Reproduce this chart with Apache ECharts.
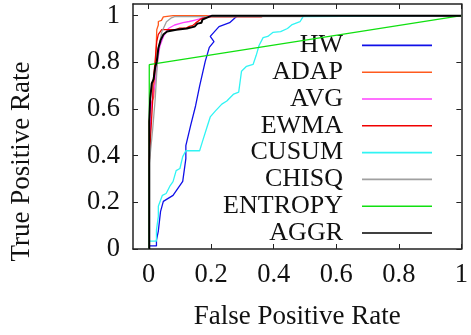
<!DOCTYPE html>
<html>
<head>
<meta charset="utf-8">
<script src="https://cdn.jsdelivr.net/npm/echarts@6/dist/echarts.min.js"></script>
<style>
  html, body { margin: 0; padding: 0; background: #fff; }
  #chart { width: 471px; height: 335px; }
</style>
</head>
<body>
<div id="chart"></div>
<script>
// ROC curves, [false positive rate, true positive rate]
const seriesNames = ['HW', 'ADAP', 'AVG', 'EWMA', 'CUSUM', 'CHISQ', 'ENTROPY', 'AGGR'];
const seriesColors = ['#1010e8', '#ff5a1e', '#ff40ff', '#f00000', '#30f4f4', '#a0a0a0', '#10e010', '#000000'];

const tickValues = [0, 0.2, 0.4, 0.6, 0.8, 1];

const hwData = [[0, 0], [0, 0.013], [0.025, 0.013], [0.025, 0.038], [0.031, 0.077], [0.038, 0.16],
  [0.047, 0.204], [0.078, 0.23], [0.109, 0.29], [0.119, 0.387], [0.119, 0.443], [0.134, 0.528],
  [0.15, 0.613], [0.163, 0.698], [0.181, 0.804], [0.194, 0.864], [0.209, 0.889], [0.197, 0.911],
  [0.225, 0.953], [0.259, 0.97], [0.281, 0.996], [0.29, 1], [1, 1]];
const adapData = [[0.002, 0], [0.002, 0.55], [0.01, 0.63], [0.016, 0.65], [0.02, 0.74], [0.024, 0.86],
  [0.026, 0.94], [0.031, 0.96], [0.031, 0.975], [0.041, 0.98], [0.047, 0.995], [0.078, 1], [1, 1]];
const avgData = [[0.002, 0], [0.002, 0.4], [0.008, 0.6], [0.016, 0.68], [0.021, 0.71], [0.028, 0.8],
  [0.036, 0.87], [0.047, 0.91], [0.063, 0.945], [0.083, 0.96], [0.11, 0.97], [0.13, 0.975],
  [0.145, 0.98], [0.16, 0.985], [0.17, 0.99], [0.2, 1], [1, 1]];
const ewmaData = [[0.001, 0], [0.001, 0.35], [0.007, 0.5], [0.013, 0.64], [0.014, 0.71], [0.021, 0.81],
  [0.026, 0.89], [0.031, 0.92], [0.042, 0.94], [0.088, 0.94], [0.099, 0.947], [0.12, 0.947],
  [0.13, 0.954], [0.14, 0.957], [0.15, 0.968], [0.166, 0.985], [0.182, 0.994], [0.2, 0.995],
  [0.36, 0.995], [0.37, 1], [1, 1]];
const cusumData = [[0, 0], [0, 0.034], [0.025, 0.034], [0.025, 0.081], [0.031, 0.14], [0.031, 0.183],
  [0.044, 0.23], [0.056, 0.238], [0.069, 0.272], [0.078, 0.289], [0.088, 0.336], [0.1, 0.345],
  [0.109, 0.396], [0.119, 0.421], [0.163, 0.421], [0.172, 0.46], [0.188, 0.528], [0.197, 0.566],
  [0.213, 0.591], [0.234, 0.621], [0.25, 0.634], [0.272, 0.664], [0.288, 0.672], [0.297, 0.762],
  [0.313, 0.783], [0.334, 0.791], [0.344, 0.83], [0.353, 0.872], [0.366, 0.906], [0.381, 0.911],
  [0.397, 0.928], [0.422, 0.932], [0.444, 0.945], [0.459, 0.962], [0.484, 0.974], [0.494, 0.996],
  [0.5, 1], [1, 1]];
const chisqData = [[0, 0], [0.001, 0.35], [0.013, 0.515], [0.021, 0.643], [0.026, 0.757], [0.031, 0.855],
  [0.042, 0.93], [0.057, 0.974], [0.073, 0.991], [0.083, 0.996], [0.49, 0.996], [0.5, 1], [1, 1]];
const entropyData = [[0.002, 0], [0.002, 0.79], [1, 1]];
const aggrData = [[0.002, 0], [0.002, 0.545], [0.005, 0.643], [0.01, 0.71], [0.016, 0.728], [0.021, 0.779],
  [0.026, 0.804], [0.031, 0.86], [0.038, 0.894], [0.047, 0.919], [0.059, 0.932], [0.088, 0.94],
  [0.122, 0.945], [0.147, 0.953], [0.156, 0.966], [0.169, 0.97], [0.172, 0.983], [0.194, 0.996],
  [0.203, 1], [1, 1]];

const allData = [hwData, adapData, avgData, ewmaData, cusumData, chisqData, entropyData, aggrData];

const chart = echarts.init(document.getElementById('chart'), null, { renderer: 'canvas' });

const font = 'Liberation Serif';
const frameColor = '#222';

function makeAxis(extra) {
  return Object.assign({
    type: 'value',
    axisLine: { show: true, onZero: false, lineStyle: { color: frameColor, width: 1.5 } },
    axisTick: { show: true, inside: true, length: 5, customValues: tickValues, lineStyle: { color: frameColor, width: 1 } },
    axisLabel: { show: true, customValues: tickValues, fontFamily: font, fontSize: 26.5, color: '#111', margin: 13 },
    splitLine: { show: false }
  }, extra);
}

const option = {
  animation: false,
  grid: { left: 129, right: 7, top: 4, bottom: 84 },
  legend: {
    orient: 'vertical',
    align: 'right',
    right: 39,
    top: 32,
    padding: 0,
    itemGap: 0,
    itemWidth: 70,
    itemHeight: 1.6,
    icon: 'rect',
    data: seriesNames,
    textStyle: { fontFamily: font, fontSize: 26, color: '#111', lineHeight: 26.8, padding: [0, 14, 0, 0] }
  },
  xAxis: [
    makeAxis({
      min: -0.05, max: 1, position: 'bottom',
      name: 'False Positive Rate', nameLocation: 'middle', nameGap: 54,
      nameTextStyle: { fontFamily: font, fontSize: 27, color: '#111' }
    }),
    makeAxis({ min: -0.05, max: 1, position: 'top', axisLabel: { show: false } })
  ],
  yAxis: [
    makeAxis({
      min: 0, max: 1.05, position: 'left',
      name: 'True Positive Rate', nameLocation: 'middle', nameGap: 98,
      nameTextStyle: { fontFamily: font, fontSize: 27, color: '#111', padding: [0, 70, 0, 0] }
    }),
    makeAxis({ min: 0, max: 1.05, position: 'right', axisLabel: { show: false } })
  ],
  series: seriesNames.map((name, i) => ({
    name: name,
    type: 'line',
    data: allData[i],
    showSymbol: false,
    symbol: 'none',
    color: seriesColors[i],
    lineStyle: { width: name === 'AGGR' ? 2 : 1.3, color: seriesColors[i] },
    z: 2 + i
  }))
};

chart.setOption(option);
</script>
</body>
</html>
